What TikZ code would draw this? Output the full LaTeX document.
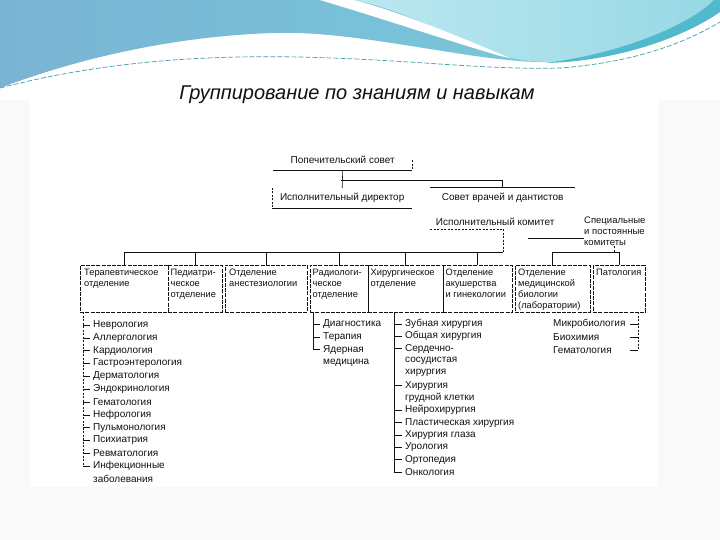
\documentclass[tikz,border=0pt]{standalone}
\usepackage{fontspec}
\setmainfont{Liberation Sans}
\definecolor{bgrey}{HTML}{F9F9F9}
\definecolor{wblue}{HTML}{7AB4D3}
\definecolor{wcyan}{HTML}{78CDDD}
\definecolor{lcyan}{HTML}{BCE8F0}
\definecolor{mcyan}{HTML}{96D8E5}
\definecolor{dteal}{HTML}{52B9CD}
\definecolor{ink}{HTML}{111111}
\begin{document}
\begin{tikzpicture}[x=1pt,y=-1pt,
  box/.style={draw=ink, line width=0.55pt, dash pattern=on 4pt off 1.2pt, anchor=north west, inner sep=0pt, minimum height=47pt},
  txt/.style={anchor=north west, align=left, inner sep=0pt, text=ink, font=\fontsize{9.3}{11}\selectfont},
  item/.style={anchor=west, inner sep=0pt, text=ink, font=\fontsize{10}{11}\selectfont},
  top/.style={inner sep=0pt, anchor=north west, text=ink, font=\fontsize{10}{11}\selectfont},
  conn/.style={draw=ink, line width=0.6pt},
  dconn/.style={draw=ink, line width=0.6pt, dash pattern=on 2pt off 1.5pt},
]
\useasboundingbox (0,0) rectangle (720,540);
% background
\fill[bgrey] (0,0) rectangle (720,540);
\fill[white] (30,100) rectangle (658,487);
\fill[white] (0,0) rectangle (720,100);
\shade[left color=wblue, right color=wcyan] (0,0) -- (720,0) -- (720,9) .. controls (690,30) and (620,60) .. (550,62) .. controls (480,64) and (360,30) .. (275,33) .. controls (200,35) and (100,50) .. (0,88) -- cycle;
\shade[left color=lcyan, right color=mcyan] (355,0) -- (720,0) -- (720,9) .. controls (690,30) and (620,60) .. (550,62) .. controls (520,62) and (495,55) .. (480,48) .. controls (440,30) and (400,10) .. (355,0) -- cycle;
\fill[white] (320,0) .. controls (380,18) and (440,38) .. (500,56) -- (510,58) .. controls (455,35) and (400,12) .. (354,0) -- cycle;
\fill[dteal] (720,0) -- (720,12) .. controls (680,40) and (610,62) .. (545,63) .. controls (620,54) and (690,25) .. (714,0) -- cycle;
\draw[color=dteal!85!black, line width=0.7pt, dash pattern=on 5pt off 2pt] (0,88) .. controls (100,62) and (200,55) .. (300,57) .. controls (420,60) and (480,70) .. (560,68) .. controls (640,62) and (690,40) .. (720,22);

% title
\node[text=ink, inner sep=0pt] (title) at (357,95) {\fontsize{20}{24}\selectfont\itshape Группирование по знаниям и навыкам};

% top level
\node[top, minimum width=139pt, minimum height=20pt] (trust) at (273,150) {Попечительский совет};
\draw[conn] (trust.south west) -- (trust.south east);
\draw[dconn] (trust.east) -- (trust.south east);
\node[top, minimum width=140pt, minimum height=20pt] (dir) at (272,188) {Исполнительный директор};
\draw[conn] (dir.south west) -- (dir.south east);
\draw[dconn] (dir.north west) -- (dir.south west);
\node[top, minimum width=145pt, minimum height=22pt] (council) at (430,187) {Совет врачей и дантистов};
\draw[conn] (council.north west) -- (council.north east);
\node[top, minimum width=130pt, minimum height=14pt] (excom) at (430,215) {Исполнительный комитет};
\coordinate (exL) at (430,229);
\coordinate (exR) at (503,229);
\draw[dconn] (exL) -- (exR);
\node[txt, font=\fontsize{9.5}{11}\selectfont] (spec) at (584,217) {Специальные\\и постоянные\\комитеты};

\coordinate (j1) at (341,180);
\draw[conn] (trust.south) -- (dir.north);
\draw[conn] (j1) -| (council.north);

% departments
\node[box, minimum width=88pt] (ther) at (80,265) {};
\node[box, minimum width=54pt] (ped) at (168,265) {};
\node[box, minimum width=82pt] (anest) at (225,265) {};
\node[box, minimum width=58pt] (rad) at (310,265) {};
\node[box, minimum width=75pt] (surg) at (368,265) {};
\node[box, minimum width=69pt] (obst) at (443,265) {};
\node[box, minimum width=75pt] (lab) at (515,265) {};
\node[box, minimum width=52pt] (path) at (593,265) {};

\node[txt] (therT) at (84,269) {Терапевтическое\\отделение};
\node[txt] (pedT) at (170.5,269) {Педиатри-\\ческое\\отделение};
\node[txt] (anestT) at (229,269) {Отделение\\анестезиологии};
\node[txt] (radT) at (312.5,269) {Радиологи-\\ческое\\отделение};
\node[txt] (surgT) at (370.5,269) {Хирургическое\\отделение};
\node[txt] (obstT) at (445.5,269) {Отделение\\акушерства\\и гинекологии};
\node[txt] (labT) at (518,268.5) {Отделение\\медицинской\\биологии\\(лаборатории)};
\node[txt] (pathT) at (596,269) {Патология};

% buses
\coordinate (busL) at (123,252);
\coordinate (busR) at (503,252);
\draw[conn] (ther.north |- busL) -- (busR);
\draw[dconn] (exR) -- (busR);
\foreach \d in {ther,ped,anest,rad,surg,obst} {
  \draw[conn] (\d.north |- busL) -- (\d.north);
}
\coordinate (rbus) at (552,252);
\draw[conn] (lab.north |- rbus) -- (path.north |- rbus);
\draw[conn] (lab.north |- rbus) -- (lab.north);
\draw[conn] (path.north |- rbus) -- (path.north);
\draw[dconn] (spec.south) -- (spec.south |- rbus);
\coordinate (spL) at (528,238);
\draw[conn] (spL) -- (spec.west |- spL);

% therapeutic list
\coordinate (thTop) at (83,312);
\foreach \t [count=\i from 0] in {Неврология,Аллергология,Кардиология,Гастроэнтерология,Дерматология,Эндокринология,Гематология,Нефрология,Пульмонология,Психиатрия,Ревматология,Инфекционные} {
  \pgfmathsetmacro\yy{325+12.83*\i}
  \node[item] (th\i) at (93,\yy) {\t};
  \draw[conn] (thTop |- th\i.west) -- ([xshift=-3pt]th\i.west);
}
\node[item] (th12) at (93,478.5) {заболевания};
\draw[dconn] (thTop) -- (thTop |- th11.west);

% radiology list
\coordinate (rdTop) at (313,312);
\foreach \t [count=\i from 0] in {Диагностика,Терапия,Ядерная} {
  \pgfmathsetmacro\yy{324+12.8*\i}
  \node[item] (rd\i) at (323,\yy) {\t};
  \draw[conn] (rdTop |- rd\i.west) -- ([xshift=-3pt]rd\i.west);
}
\node[item] (rd3) at (323,362.4) {медицина};
\draw[conn] (rdTop) -- (rdTop |- rd2.west);

% surgery list
\coordinate (sgTop) at (394,312);
\foreach \t/\k [count=\i from 0] in {Зубная хирургия/1,Общая хирургия/1,Сердечно-/1,сосудистая/0,хирургия/0,Хирургия/1,грудной клетки/0,Нейрохирургия/1,Пластическая хирургия/1,Хирургия глаза/1,Урология/1,Ортопедия/1,Онкология/1} {
  \pgfmathsetmacro\yy{324+12.33*\i}
  \node[item] (sg\i) at (405,\yy) {\t};
  \ifnum\k=1 \draw[conn] (sgTop |- sg\i.west) -- ([xshift=-3pt]sg\i.west);\fi
}
\draw[conn] (sgTop) -- (sgTop |- sg12.west);

% pathology list
\coordinate (ptTop) at (638,312);
\foreach \t [count=\i from 0] in {Микробиология,Биохимия,Гематология} {
  \pgfmathsetmacro\yy{324+13*\i}
  \node[item] (pt\i) at (553,\yy) {\t};
  \draw[conn] (ptTop |- pt\i.west) -- ++(-8,0);
}
\draw[dconn] (ptTop) -- (ptTop |- pt2.west);
\end{tikzpicture}
\end{document}
